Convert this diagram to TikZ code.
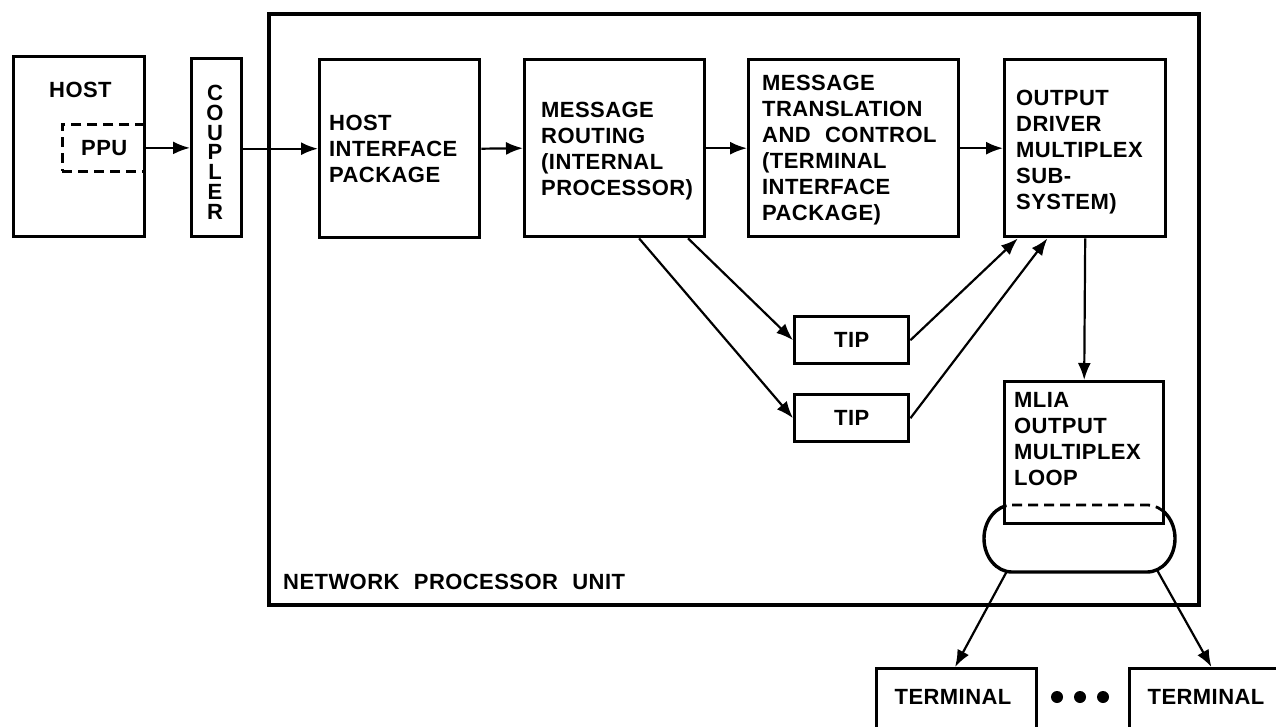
\documentclass[tikz,border=0pt]{standalone}
\usepackage{fontspec}
\setmainfont{Liberation Sans}[LetterSpace=2,WordSpace=2.2]
\usetikzlibrary{arrows.meta,calc}
\begin{document}
\begin{tikzpicture}[x=1pt,y=-1pt,
  box/.style={draw, line width=3.4pt, inner sep=0pt, anchor=north west, fill=white},
  lbl/.style={font=\fontsize{22}{26}\selectfont\bfseries, align=left, inner sep=0pt, anchor=north west},
  ctext/.style={font=\fontsize{22}{26}\selectfont\bfseries, inner sep=0pt},
  arr/.style={line width=2.2pt, -{Latex[length=17pt,width=13pt]}},
  dsh/.style={line width=2.8pt, dash pattern=on 10pt off 6pt},
]
\useasboundingbox (0,0) rectangle (1276,727);
\clip (0,0) rectangle (1276,727);

% Network processor unit frame
\node[box, line width=4pt, minimum width=930pt, minimum height=591pt] (npu) at (267,12) {};
\node[lbl] (npulbl) at (283,574) {NETWORK PROCESSOR UNIT};

% Host and coupler
\node[box, minimum width=131pt, minimum height=180pt] (host) at (12,55) {};
\node[lbl] (hostlbl) at (49,82) {HOST};
\node[draw, dsh, minimum width=82pt, minimum height=47pt, anchor=north west, inner sep=0pt] (ppu) at (61,123) {};
\node[lbl] (ppulbl) at (81,140) {PPU};
\node[box, minimum width=50pt, minimum height=178pt] (coupler) at (190,57) {};
\node[lbl, align=center, anchor=north, font=\fontsize{22}{19.8}\selectfont\bfseries] (couplbl) at (215,85) {C\\O\\U\\P\\L\\E\\R};

% Main row
\node[box, minimum width=160pt, minimum height=178pt] (hip) at (318,58) {};
\node[lbl] (hiplbl) at (329,115) {HOST\\INTERFACE\\PACKAGE};
\node[box, minimum width=180pt, minimum height=177pt] (mr) at (523,58) {};
\node[lbl] (mrlbl) at (541,102) {MESSAGE\\ROUTING\\(INTERNAL\\PROCESSOR)};
\node[box, minimum width=210pt, minimum height=177pt] (mt) at (747,58) {};
\node[lbl] (mtlbl) at (762,75) {MESSAGE\\TRANSLATION\\AND CONTROL\\(TERMINAL\\INTERFACE\\PACKAGE)};
\node[box, minimum width=161pt, minimum height=177pt] (od) at (1003,58) {};
\node[lbl] (odlbl) at (1016,90) {OUTPUT\\DRIVER\\MULTIPLEX\\SUB-\\SYSTEM)};

% TIPs
\node[box, ctext, minimum width=114pt, minimum height=47pt] (tip1) at (793,315) {TIP};
\node[box, ctext, minimum width=114pt, minimum height=47pt] (tip2) at (793,393) {TIP};

% Loop (solid part)
\draw[line width=3.4pt] (1012,505) -- (1147,505) arc[start angle=-90, end angle=90, x radius=28, y radius=33.5] -- (1012,572) arc[start angle=90, end angle=270, x radius=28, y radius=33.5] -- cycle;

% MLIA box
\node[box, minimum width=159pt, minimum height=142pt] (mlia) at (1003,380) {};
\begin{scope}
\clip (mlia.south west) rectangle (mlia.north east);
\draw[dsh] (1012,505) -- (1147,505) arc[start angle=-90, end angle=90, x radius=28, y radius=33.5] -- (1012,572) arc[start angle=90, end angle=270, x radius=28, y radius=33.5] -- cycle;
\end{scope}
\node[lbl] (mlialbl) at (1014,392) {MLIA\\OUTPUT\\MULTIPLEX\\LOOP};
\coordinate (loopL) at (1007,571);
\coordinate (loopR) at (1157,570);

% Terminals
\node[box, minimum width=160pt, minimum height=70pt] (term1) at (875,667) {};
\node[box, minimum width=180pt, minimum height=70pt] (term2) at (1128,667) {};
\node[ctext] (t1lbl) at (953,697) {TERMINAL};
\node[ctext] (t2lbl) at (1206,697) {TERMINAL};
\node[circle, fill, inner sep=0pt, minimum size=12pt] (d1) at (1057,697) {};
\node[circle, fill, inner sep=0pt, minimum size=12pt] (d2) at (1080,697) {};
\node[circle, fill, inner sep=0pt, minimum size=12pt] (d3) at (1103,697) {};

% Connectors
\draw[arr] (host.east |- ppu.center) -- (coupler.west |- ppu.center);
\draw[arr] (coupler.east |- hip.west) -- (hip.west);
\draw[arr] (hip.east) -- (mr.west);
\draw[arr] (mr.east) -- (mt.west);
\draw[arr] (mt.east) -- (od.west);
\draw[arr] ($(mr.south west)!0.9!(mr.south east)$) -- (tip1.west);
\draw[arr] ($(mr.south west)!0.633!(mr.south east)$) -- (tip2.west);
\draw[arr] (tip1.east) -- ($(od.south west)!0.09!(od.south east)$);
\draw[arr] (tip2.east) -- ($(od.south west)!0.27!(od.south east)$);
\draw[arr] (od.south) -- (mlia.north);
\draw[arr] (loopL) -- ($(term1.north west)!0.49!(term1.north east)$);
\draw[arr] (loopR) -- ($(term2.north west)!0.455!(term2.north east)$);
\end{tikzpicture}
\end{document}
